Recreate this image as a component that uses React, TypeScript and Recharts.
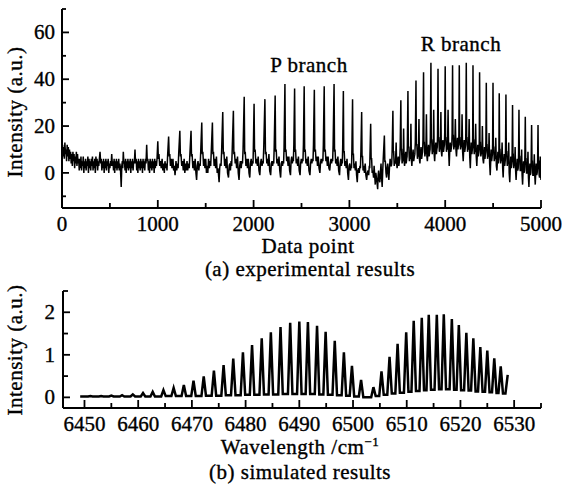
import React from 'react';
import { LineChart, Line, XAxis, YAxis } from 'recharts';

const FONT = '"Liberation Serif", "Times New Roman", serif';
const INK = '#000';

// ---------- (a) experimental results ----------
const expXMajor = [0, 1000, 2000, 3000, 4000, 5000];
const expXMinor = [500, 1500, 2500, 3500, 4500];
const expYMajor = [0, 20, 40, 60];
const expYMinor = [-10, 10, 30, 50, 70];

// [data point, intensity]
const expBaselineRegion: number[][] = [
  [0, 9], [6, 12], [12, 7], [18, 11], [24, 6], [30, 13], [36, 8], [42, 10], [48, 5], [54, 12],
  [60, 7], [66, 11], [72, 5], [78, 10], [84, 6], [90, 9], [96, 4], [102, 8], [108, 3], [114, 9],
  [120, 5], [126, 8], [132, 2], [138, 7], [144, 4], [150, 9], [156, 3], [162, 8], [168, 4], [174, 6],
  [180, 1], [186, 6], [192, 2], [198, 7], [204, 1], [210, 5], [216, 3], [222, 7], [228, 0], [234, 5],
  [240, 2], [246, 6], [252, 1], [258, 5], [264, 3], [270, 7], [276, 0], [282, 6], [288, 2], [294, 5],
  [300, 1], [306, 6], [312, 3], [318, 7], [324, 1], [330, 5], [336, 2], [342, 6], [348, 0], [354, 7],
  [360, 3], [366, 6], [372, 1], [378, 5], [384, 3], [390, 6], [397, 9], [404, 4], [410, 6], [416, 1],
  [422, 5], [428, 2], [434, 6], [440, 0], [446, 5], [452, 2], [458, 6], [464, 1], [470, 5], [476, 3],
  [482, 6], [488, 0], [494, 4], [500, 2], [506, 5], [512, 3], [519, 8], [526, 3], [532, 5], [538, 1],
  [544, 6], [550, 0], [556, 5], [562, 2], [568, 6], [574, 1], [580, 5], [586, 2], [592, 6], [598, 1],
  [604, 4], [610, 2], [618, -6], [624, 3], [630, 5], [634, 2], [640, 9], [646, 4], [652, 5], [658, 1],
  [664, 6], [670, 0], [676, 5], [682, 2], [688, 6], [694, 1], [700, 5], [706, 2], [712, 6], [718, 0],
  [724, 5], [730, 2], [736, 6], [742, 1], [748, 5], [755, 4], [762, 10], [768, 4], [774, 6], [780, 1],
  [786, 5], [792, 0], [798, 6], [804, 2], [810, 5], [816, 1], [822, 6], [828, 2], [834, 5], [840, 0],
  [846, 6], [852, 2], [858, 5], [864, 1], [870, 6], [877, 4], [884, 12], [890, 5], [896, 6], [902, 1],
  [908, 5], [914, 0], [920, 6], [926, 2], [932, 5], [938, 1], [944, 6], [950, 2], [956, 5], [962, 0],
  [968, 6], [974, 2], [980, 5], [986, 3], [992, 6],
];

const expPBranch: number[][] = [
  [1000, 13.5], [1006, 6], [1012, 8], [1020, 3], [1028, 5], [1036, 2], [1045, 6], [1052, 1], [1060, 4], [1068, 0], [1075, 5], [1082, 2], [1090, 4], [1096, 1], [1102, 7],
  [1113, 15.5], [1119, 7], [1125, 8], [1132, 3], [1140, 6], [1148, 2], [1158, 6], [1165, 1], [1172, 3], [1180, -1], [1190, 5], [1198, 1], [1205, 4], [1212, 2], [1218, 8],
  [1230, 18], [1236, 7], [1242, 8], [1250, 3], [1258, 5], [1266, 1], [1275, 6], [1282, 0], [1290, 4], [1297, 1], [1305, 5], [1312, 1], [1320, 4], [1328, 2], [1335, 8],
  [1347, 18], [1352, 7], [1358, 8], [1366, 2], [1375, 5], [1382, 1], [1390, 6], [1398, 0], [1405, -3], [1412, 3], [1420, 5], [1428, 1], [1435, 4], [1442, 3], [1448, 9],
  [1459, 21.5], [1464, 8], [1470, 9], [1478, 3], [1485, 6], [1492, 2], [1500, 6], [1508, 0], [1515, 3], [1522, 0], [1530, 6], [1538, 2], [1545, 5], [1552, 3], [1558, 9],
  [1570, 21.5], [1575, 8], [1581, 9], [1588, 3], [1596, 6], [1604, 2], [1612, 7], [1620, 0], [1628, 2], [1634, -1], [1640, -4], [1646, 2], [1652, 4], [1660, 3], [1666, 9],
  [1678, 26], [1684, 8], [1690, 9], [1698, 3], [1705, 6], [1712, 2], [1720, 7], [1728, 0], [1738, -2], [1745, 3], [1752, 4], [1758, 1], [1765, 5], [1771, 3], [1777, 10],
  [1789, 26.5], [1794, 8], [1800, 9], [1808, 4], [1815, 6], [1823, 2], [1832, 7], [1840, 0], [1848, -3], [1855, 3], [1862, 5], [1870, 2], [1878, 5], [1884, 4], [1890, 10],
  [1902, 32.5], [1907, 8], [1913, 9], [1920, 3], [1928, 6], [1936, 2], [1945, 6], [1952, 0], [1960, -2], [1967, 4], [1975, 6], [1982, 3], [1990, 5], [1994, 4], [1997, 10],
  [2005, 29.5], [2010, 9], [2016, 10], [2024, 4], [2032, 6], [2040, 3], [2048, 7], [2056, 1], [2065, -1], [2072, 4], [2080, 6], [2088, 3], [2095, 5], [2100, 4], [2106, 11],
  [2118, 31.5], [2124, 8], [2130, 9], [2138, 4], [2145, 6], [2152, 3], [2160, 8], [2168, 1], [2178, -1], [2185, 4], [2192, 5], [2198, 3], [2205, 5], [2210, 4], [2215, 11],
  [2225, 33], [2230, 9], [2236, 10], [2243, 4], [2250, 6], [2258, 3], [2265, 7], [2273, 1], [2282, -2], [2289, 4], [2296, 5], [2302, 3], [2308, 5], [2313, 4], [2318, 11],
  [2327, 38], [2332, 9], [2338, 10], [2345, 5], [2352, 7], [2360, 3], [2368, 7], [2376, 1], [2385, -1], [2391, 5], [2398, 7], [2404, 4], [2410, 6], [2415, 5], [2420, 12],
  [2428, 36], [2433, 9], [2438, 10], [2445, 4], [2452, 6], [2460, 3], [2468, 7], [2476, 1], [2485, -1], [2491, 4], [2498, 6], [2504, 4], [2510, 6], [2515, 5], [2520, 12],
  [2528, 37], [2533, 9], [2539, 10], [2546, 4], [2553, 6], [2561, 3], [2570, 7], [2578, 1], [2588, -1], [2595, 4], [2602, 6], [2608, 4], [2615, 6], [2620, 5], [2625, 12],
  [2634, 35.5], [2639, 9], [2645, 10], [2652, 5], [2660, 7], [2667, 3], [2675, 7], [2683, 2], [2692, 0], [2698, 4], [2705, 6], [2711, 4], [2718, 6], [2723, 5], [2728, 12],
  [2737, 37], [2742, 9], [2748, 10], [2755, 5], [2762, 7], [2770, 3], [2778, 7], [2786, 2], [2795, 1], [2801, 4], [2808, 6], [2814, 4], [2820, 6], [2825, 5], [2830, 12],
  [2840, 38], [2845, 9], [2850, 10], [2857, 4], [2865, 6], [2872, 3], [2880, 7], [2888, 1], [2897, -1], [2903, 4], [2910, 6], [2916, 3], [2922, 5], [2926, 4], [2930, 11],
  [2937, 35], [2941, 9], [2946, 9], [2953, 3], [2960, 5], [2967, 2], [2975, 6], [2982, 0], [2990, -3], [2997, 3], [3004, 4], [3011, 1], [3018, 3], [3022, 2], [3026, 10],
  [3033, 31.5], [3037, 8], [3042, 8], [3048, 2], [3055, 4], [3062, 1], [3068, 5], [3075, -1], [3082, -4], [3088, 1], [3095, 2], [3102, 0], [3110, 3], [3115, 2], [3120, 9],
  [3128, 26], [3132, 7], [3137, 7], [3143, 1], [3150, 3], [3157, 0], [3165, 4], [3172, -1], [3180, -3], [3187, 0], [3195, 1], [3201, -1], [3208, 3], [3212, 2], [3215, 8],
  [3222, 21], [3227, 6], [3232, 6], [3238, 0], [3245, 1], [3252, -2], [3258, 3], [3264, -1], [3270, -5], [3276, 0], [3282, -2], [3288, -4], [3295, -7], [3300, -1],
  [3305, 1], [3311, -3], [3318, -4], [3324, 0], [3330, 4], [3336, -2], [3342, -6], [3347, 0], [3352, 5],
  [3365, 16], [3370, 5], [3375, 5], [3382, 0], [3388, -2], [3394, 2], [3400, 4], [3406, 0], [3412, -3], [3418, 2], [3425, 6], [3431, 3], [3438, 3], [3442, 4], [3446, 9],
];

const expRBranch: number[][] = [
  [3454, 26.5], [3458, 9], [3462, 9], [3468, 3], [3475, 5], [3481, 4], [3488, 13], [3493, 4], [3498, 2], [3504, 5], [3510, 7], [3516, 3], [3522, 5], [3526, 6], [3530, 11],
  [3537, 31], [3541, 10], [3545, 10], [3550, 4], [3556, 6], [3561, 5], [3566, 19], [3571, 5], [3576, 3], [3582, 6], [3588, 9], [3593, 4], [3598, 6], [3602, 7], [3605, 12],
  [3611, 35], [3615, 11], [3620, 11], [3626, 5], [3632, 7], [3637, 6], [3642, 21], [3647, 6], [3652, 3], [3658, 7], [3665, 10], [3671, 5], [3678, 7], [3683, 8], [3688, 13],
  [3695, 39.5], [3699, 12], [3704, 12], [3710, 6], [3715, 8], [3720, 7], [3726, 23], [3731, 6], [3736, 4], [3742, 8], [3748, 11], [3754, 6], [3760, 8], [3764, 9], [3768, 14],
  [3774, 43], [3778, 13], [3782, 13], [3788, 7], [3793, 9], [3798, 8], [3804, 25], [3809, 7], [3814, 5], [3820, 9], [3826, 12], [3832, 7], [3838, 9], [3842, 10], [3845, 15],
  [3851, 47], [3855, 14], [3859, 14], [3865, 8], [3870, 10], [3875, 9], [3880, 27], [3885, 8], [3890, 5], [3896, 10], [3902, 13], [3908, 8], [3913, 10], [3917, 11], [3920, 16],
  [3925, 44.5], [3929, 15], [3933, 15], [3939, 9], [3944, 11], [3949, 10], [3955, 26], [3960, 9], [3965, 7], [3970, 11], [3976, 14], [3982, 9], [3988, 11], [3992, 12], [3995, 17],
  [4000, 45.5], [4004, 15], [4008, 15], [4013, 9], [4018, 11], [4024, 10], [4030, 27], [4036, 9], [4042, 3], [4047, 9], [4052, 13], [4058, 9], [4065, 11], [4069, 12], [4072, 17],
  [4077, 46], [4081, 16], [4085, 16], [4090, 10], [4095, 12], [4100, 11], [4106, 23], [4112, 10], [4118, 7], [4123, 11], [4128, 15], [4133, 10], [4138, 12], [4141, 12], [4143, 17],
  [4147, 46], [4151, 15], [4155, 15], [4160, 10], [4166, 12], [4171, 11], [4176, 25], [4182, 9], [4188, 5], [4193, 10], [4198, 14], [4204, 9], [4210, 11], [4213, 12], [4215, 17],
  [4220, 47], [4224, 15], [4228, 15], [4233, 9], [4238, 11], [4244, 10], [4250, 23], [4256, 7], [4262, 2], [4267, 8], [4272, 13], [4278, 8], [4283, 10], [4285, 11], [4287, 16],
  [4290, 46], [4294, 14], [4298, 14], [4303, 8], [4308, 10], [4313, 9], [4318, 21], [4324, 7], [4330, 3], [4335, 8], [4340, 12], [4346, 7], [4352, 9], [4354, 10], [4356, 15],
  [4359, 43], [4363, 13], [4367, 13], [4372, 7], [4378, 9], [4383, 8], [4388, 20], [4394, 6], [4400, 4], [4405, 7], [4410, 11], [4415, 6], [4420, 8], [4423, 9], [4425, 14],
  [4429, 38.5], [4433, 12], [4437, 12], [4442, 6], [4448, 8], [4453, 7], [4458, 17], [4464, 4], [4470, -1], [4475, 5], [4480, 10], [4485, 5], [4490, 7], [4493, 8], [4495, 13],
  [4499, 38.5], [4503, 11], [4507, 11], [4512, 5], [4518, 7], [4523, 6], [4528, 15], [4534, 3], [4540, 1], [4545, 5], [4550, 9], [4554, 4], [4558, 6], [4560, 7], [4561, 12],
  [4564, 34], [4568, 10], [4572, 10], [4578, 4], [4583, 6], [4588, 5], [4594, 13], [4600, 2], [4605, -2], [4610, 4], [4616, 8], [4621, 3], [4626, 5], [4628, 6], [4630, 11],
  [4634, 33.5], [4638, 9], [4642, 9], [4648, 3], [4653, 5], [4658, 4], [4663, 13], [4668, 0], [4674, -4], [4680, 3], [4685, 7], [4690, 2], [4695, 4], [4697, 5], [4699, 10],
  [4703, 29], [4707, 8], [4710, 8], [4715, 2], [4720, 4], [4725, 3], [4730, 11], [4735, 1], [4740, -3], [4746, 2], [4752, 6], [4757, 1], [4762, 2], [4764, 4], [4766, 9],
  [4770, 27], [4774, 7], [4778, 7], [4783, 1], [4788, 1], [4793, 2], [4798, 10], [4803, -1], [4808, -5], [4813, 1], [4818, 5], [4823, 0], [4828, 1], [4830, 3], [4832, 8],
  [4836, 24], [4840, 6], [4844, 6], [4849, 0], [4854, 0], [4859, 1], [4864, 9], [4869, -2], [4874, -6], [4879, 0], [4884, 4], [4889, -1], [4894, 0], [4896, 2], [4898, 7],
  [4902, 20.5], [4906, 5], [4910, 5], [4915, -1], [4920, -1], [4925, 0], [4930, 8], [4935, -1], [4940, -5], [4945, 0], [4950, 4], [4955, -1], [4960, 0], [4963, 2], [4965, 6],
  [4969, 20.5], [4972, 5], [4976, 5], [4981, -1], [4985, -2], [4989, 1], [4992, 7], [4996, -1], [5000, -3],
];

// ---------- (b) simulated results ----------
const simXMajor = [6450, 6460, 6470, 6480, 6490, 6500, 6510, 6520, 6530];
const simXMinor = [6455, 6465, 6475, 6485, 6495, 6505, 6515, 6525, 6535];
const simYMajor = [0, 1, 2];
const simYMinor = [0.5, 1.5, 2.5];

const simStart = [6449.2, 0.02];
const simPeakWn = [
  6451.1, 6453.1, 6455.0, 6457.0, 6459.0, 6460.9, 6462.7, 6464.7, 6466.6, 6468.5,
  6470.3, 6472.2, 6474.1, 6475.9, 6477.7, 6479.5, 6481.2, 6483.0, 6484.7, 6486.5,
  6488.3, 6490.0, 6491.6, 6493.3, 6494.9, 6496.6, 6498.3, 6499.8, 6501.5, 6503.8,
  6505.3, 6506.8, 6508.3, 6509.9, 6511.3, 6512.8, 6514.1, 6515.6, 6516.9, 6518.4,
  6519.7, 6521.1, 6522.4, 6523.7, 6525.0, 6526.3, 6527.5, 6528.8,
];
const simPeakI = [
  0.03, 0.03, 0.04, 0.05, 0.07, 0.1, 0.13, 0.17, 0.22, 0.29,
  0.39, 0.49, 0.63, 0.76, 0.91, 1.06, 1.23, 1.39, 1.53, 1.65,
  1.75, 1.78, 1.77, 1.68, 1.54, 1.33, 1.06, 0.74, 0.41, 0.24,
  0.61, 0.95, 1.26, 1.53, 1.8, 1.87, 1.94, 1.94, 1.95, 1.84,
  1.7, 1.52, 1.39, 1.18, 1.1, 0.92, 0.73, 0.53,
];
// trough level on the left of each line
const simValleyI = [
  0.02, 0.02, 0.02, 0.02, 0.02, 0.02, 0.02, 0.02, 0.03, 0.03,
  0.03, 0.03, 0.04, 0.04, 0.05, 0.05, 0.06, 0.06, 0.07, 0.07,
  0.08, 0.08, 0.08, 0.08, 0.07, 0.06, 0.05, 0.04, 0.02, 0.0,
  0.03, 0.06, 0.09, 0.11, 0.13, 0.15, 0.17, 0.18, 0.19, 0.19,
  0.18, 0.17, 0.16, 0.14, 0.13, 0.12, 0.1, 0.09,
];
const SIM_HALF_WIDTH = 0.42;

const expData = [...expBaselineRegion, ...expPBranch, ...expRBranch].map(([x, y]) => ({ x, y }));

const simData: { x: number; y: number }[] = [{ x: simStart[0], y: simStart[1] }];
simPeakWn.forEach((p, i) => {
  simData.push({ x: p - SIM_HALF_WIDTH, y: simValleyI[i] });
  simData.push({ x: p, y: simPeakI[i] });
  if (i < simPeakWn.length - 1) simData.push({ x: p + SIM_HALF_WIDTH, y: simValleyI[i + 1] });
});

const fmt = (v: number) => String(v);

const textStyle = { fontFamily: FONT, fontSize: 21, fill: INK, stroke: INK, strokeWidth: 0.35 };

const makeXTick = (major: number[], majorLen: number, minorLen: number, labelDy: number) =>
  (props: any) => {
    const { x, y, payload } = props;
    const isMajor = major.includes(payload.value);
    return (
      <g>
        <line x1={x} y1={y} x2={x} y2={y - (isMajor ? majorLen : minorLen)} stroke={INK} strokeWidth={1.8} />
        {isMajor && (
          <text x={x} y={y + labelDy} textAnchor="middle" {...textStyle}>
            {fmt(payload.value)}
          </text>
        )}
      </g>
    );
  };

const makeYTick = (major: number[], majorLen: number, minorLen: number, labelDx: number) =>
  (props: any) => {
    const { x, y, payload } = props;
    const isMajor = major.includes(payload.value);
    return (
      <g>
        <line x1={x} y1={y} x2={x + (isMajor ? majorLen : minorLen)} y2={y} stroke={INK} strokeWidth={1.8} />
        {isMajor && (
          <text x={x - labelDx} y={y + 7} textAnchor="end" {...textStyle}>
            {fmt(payload.value)}
          </text>
        )}
      </g>
    );
  };

const axisLine = { stroke: INK, strokeWidth: 2 };

export default function App() {
  return (
    <div style={{ position: 'absolute', left: 0, top: 0, width: 562, height: 487, background: '#fff', overflow: 'hidden' }}>
      <div style={{ position: 'absolute', left: 0, top: 0 }}>
        <LineChart width={562} height={290} data={expData} margin={{ top: 9, right: 21, left: 0, bottom: 0 }}>
          <XAxis
            type="number"
            dataKey="x"
            domain={[0, 5000]}
            ticks={[...expXMajor, ...expXMinor].sort((a, b) => a - b)}
            interval={0}
            tickLine={false}
            tickSize={0}
            tickMargin={0}
            axisLine={axisLine}
            height={82}
            tick={makeXTick(expXMajor, 8, 5, 23)}
            allowDataOverflow
          />
          <YAxis
            type="number"
            domain={[-15, 70]}
            ticks={[...expYMajor, ...expYMinor].sort((a, b) => a - b)}
            interval={0}
            tickLine={false}
            tickSize={0}
            tickMargin={0}
            axisLine={axisLine}
            width={62}
            tick={makeYTick(expYMajor, 7, 4, 7)}
            allowDataOverflow
          />
          <Line type="linear" dataKey="y" stroke={INK} strokeWidth={1.5} dot={false} isAnimationActive={false} />
        </LineChart>
      </div>
      <div style={{ position: 'absolute', left: 0, top: 270 }}>
        <LineChart width={562} height={217} data={simData} margin={{ top: 21, right: 21, left: 0, bottom: 0 }}>
          <XAxis
            type="number"
            dataKey="x"
            domain={[6446, 6535]}
            ticks={[...simXMajor, ...simXMinor].sort((a, b) => a - b)}
            interval={0}
            tickLine={false}
            tickSize={0}
            tickMargin={0}
            axisLine={axisLine}
            height={79}
            tick={makeXTick(simXMajor, 8, 5, 23)}
            allowDataOverflow
          />
          <YAxis
            type="number"
            domain={[-0.25, 2.5]}
            ticks={[...simYMajor, ...simYMinor].sort((a, b) => a - b)}
            interval={0}
            tickLine={false}
            tickSize={0}
            tickMargin={0}
            axisLine={axisLine}
            width={63}
            tick={makeYTick(simYMajor, 7, 5, 8)}
            allowDataOverflow
          />
          <Line type="linear" dataKey="y" stroke={INK} strokeWidth={2.5} dot={false} isAnimationActive={false} />
        </LineChart>
      </div>
      <svg width={562} height={487} style={{ position: 'absolute', left: 0, top: 0, pointerEvents: 'none' }}>
        <g fontFamily={FONT} fontSize={21} fill={INK} stroke={INK} strokeWidth={0.35} letterSpacing={0.5}>
          <text transform="translate(22,112) rotate(-90)" textAnchor="middle">Intensity (a.u.)</text>
          <text x={308} y={253} textAnchor="middle">Data point</text>
          <text x={310} y={276} textAnchor="middle">(a) experimental results</text>
          <text x={309} y={72} textAnchor="middle">P branch</text>
          <text x={461} y={51} textAnchor="middle">R branch</text>
          <text transform="translate(22,350) rotate(-90)" textAnchor="middle">Intensity (a.u.)</text>
          <text x={300} y={454} textAnchor="middle">
            Wavelength /cm<tspan dy={-8} fontSize={13}>−1</tspan>
          </text>
          <text x={300} y={479} textAnchor="middle">(b) simulated results</text>
        </g>
      </svg>
    </div>
  );
}
